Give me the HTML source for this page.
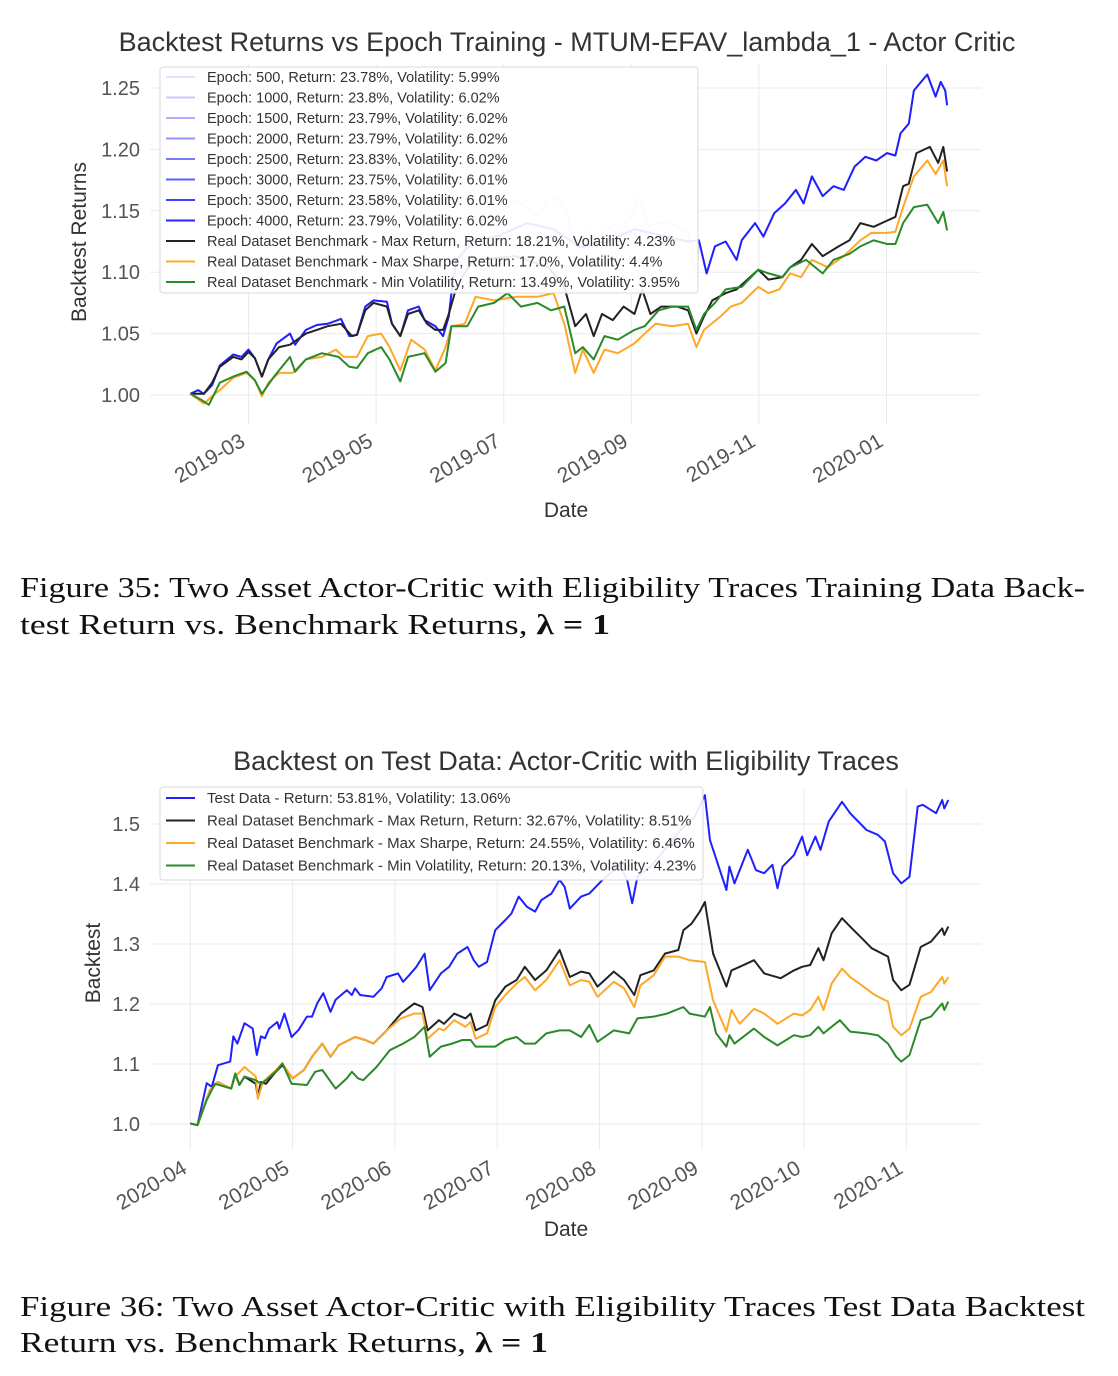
<!DOCTYPE html>
<html><head><meta charset="utf-8"><style>
html,body{margin:0;padding:0;background:#fff;}
svg{display:block;font-family:"Liberation Sans",sans-serif;}
</style></head><body>
<svg id="root" width="1118" height="1376" viewBox="0 0 1118 1376" xmlns="http://www.w3.org/2000/svg">
<g id="c1"></g>
<g id="c2"></g>
<g font-family="Liberation Serif, serif" font-size="29" fill="#111">
<text x="20" y="597" textLength="1065" lengthAdjust="spacingAndGlyphs">Figure 35: Two Asset Actor-Critic with Eligibility Traces Training Data Back-</text>
<text x="20" y="634" textLength="590" lengthAdjust="spacingAndGlyphs">test Return vs. Benchmark Returns, <tspan font-weight="bold">λ = 1</tspan></text>
</g>
<g font-family="Liberation Serif, serif" font-size="29" fill="#111">
<text x="20" y="1316" textLength="1065" lengthAdjust="spacingAndGlyphs">Figure 36: Two Asset Actor-Critic with Eligibility Traces Test Data Backtest</text>
<text x="20" y="1352" textLength="528" lengthAdjust="spacingAndGlyphs">Return vs. Benchmark Returns, <tspan font-weight="bold">λ = 1</tspan></text>
</g>
</svg>
<script>
// ---------- Chart 1 data (t = months since 2019-03) ----------
const c1Ticks = [1.00,1.05,1.10,1.15,1.20,1.25];
const c1TickLabels = ["1.00","1.05","1.10","1.15","1.20","1.25"];
const c1Months = [0,2,4,6,8,10];
const c1MonthLabels = ["2019-03","2019-05","2019-07","2019-09","2019-11","2020-01"];
const c1BlueT = [-0.91,-0.79,-0.70,-0.57,-0.45,-0.24,-0.11,0.00,0.10,0.21,0.31,0.44,0.65,0.73,0.90,1.07,1.24,1.45,1.58,1.70,1.83,1.96,2.17,2.25,2.38,2.50,2.67,2.76,2.93,3.05,3.14,3.18,3.26,3.52,3.94,4.36,4.78,5.20,5.62,6.05,6.47,6.89,7.06,7.18,7.31,7.48,7.65,7.73,7.94,8.07,8.24,8.41,8.58,8.70,8.83,9.00,9.17,9.33,9.50,9.67,9.84,10.01,10.14,10.22,10.35,10.43,10.64,10.77,10.85,10.92,10.95];
const c1BlueV = [1.001,1.004,1.001,1.008,1.024,1.033,1.031,1.037,1.030,1.015,1.029,1.042,1.050,1.041,1.053,1.057,1.058,1.062,1.048,1.049,1.072,1.077,1.076,1.058,1.048,1.069,1.072,1.061,1.056,1.048,1.064,1.083,1.110,1.125,1.130,1.140,1.135,1.120,1.125,1.135,1.130,1.125,1.126,1.099,1.121,1.125,1.110,1.126,1.140,1.129,1.148,1.156,1.167,1.156,1.178,1.162,1.170,1.167,1.186,1.194,1.191,1.197,1.195,1.213,1.221,1.248,1.261,1.243,1.255,1.248,1.236];
const c1Ep500MidT = [3.26,3.43,3.60,3.77,3.94,4.19,4.36,4.53,4.70,4.87,4.99,5.12,5.29,5.46,5.62,5.79,5.96,6.13,6.26,6.38,6.55,6.72,6.89,7.02];
const c1Ep500MidV = [1.096,1.129,1.142,1.140,1.148,1.159,1.153,1.145,1.159,1.159,1.148,1.121,1.134,1.126,1.137,1.132,1.142,1.161,1.137,1.140,1.140,1.137,1.132,1.096];
const c1BlackT = [-0.91,-0.70,-0.57,-0.45,-0.24,-0.11,0.00,0.10,0.21,0.31,0.48,0.65,0.90,1.07,1.24,1.45,1.62,1.70,1.83,1.96,2.17,2.25,2.38,2.50,2.67,2.80,2.93,3.05,3.14,3.26,3.52,4.19,4.70,4.95,5.12,5.29,5.41,5.54,5.71,5.88,6.05,6.17,6.30,6.47,6.72,6.89,7.02,7.14,7.27,7.48,7.65,7.82,7.99,8.15,8.37,8.49,8.66,8.83,9.00,9.25,9.42,9.59,9.80,10.01,10.14,10.26,10.35,10.47,10.68,10.81,10.89,10.95];
const c1BlackV = [1.001,1.001,1.010,1.023,1.031,1.029,1.035,1.030,1.015,1.029,1.039,1.041,1.050,1.053,1.056,1.058,1.048,1.049,1.069,1.075,1.072,1.058,1.048,1.066,1.069,1.058,1.053,1.053,1.066,1.088,1.110,1.113,1.104,1.088,1.056,1.066,1.048,1.066,1.061,1.072,1.066,1.086,1.066,1.072,1.072,1.069,1.050,1.064,1.077,1.083,1.086,1.094,1.102,1.094,1.096,1.104,1.110,1.123,1.113,1.121,1.126,1.140,1.137,1.142,1.145,1.170,1.172,1.197,1.202,1.189,1.202,1.182];
const c1OrangeT = [-0.91,-0.70,-0.57,-0.45,-0.24,-0.03,0.10,0.21,0.31,0.48,0.69,0.90,1.15,1.37,1.49,1.70,1.87,2.08,2.21,2.38,2.55,2.76,2.93,3.09,3.18,3.39,3.56,3.85,4.19,4.53,4.78,4.95,5.12,5.24,5.41,5.58,5.79,6.05,6.21,6.38,6.64,6.89,7.02,7.14,7.40,7.56,7.73,7.99,8.15,8.32,8.49,8.66,8.83,9.08,9.33,9.59,9.76,10.01,10.14,10.26,10.43,10.64,10.77,10.89,10.95];
const c1OrangeV = [1.001,0.993,0.999,1.004,1.014,1.018,1.012,0.999,1.010,1.018,1.018,1.029,1.031,1.037,1.031,1.031,1.048,1.050,1.039,1.020,1.045,1.037,1.020,1.039,1.056,1.058,1.080,1.077,1.080,1.080,1.083,1.058,1.018,1.037,1.018,1.037,1.034,1.042,1.050,1.058,1.056,1.058,1.039,1.053,1.064,1.072,1.075,1.088,1.083,1.086,1.099,1.096,1.110,1.104,1.113,1.126,1.132,1.132,1.133,1.153,1.178,1.191,1.180,1.191,1.170];
const c1GreenT = [-0.91,-0.74,-0.62,-0.45,-0.24,-0.03,0.10,0.21,0.40,0.65,0.73,0.90,1.15,1.41,1.58,1.70,1.87,2.08,2.21,2.38,2.50,2.76,2.93,3.09,3.18,3.43,3.60,3.85,4.06,4.27,4.53,4.74,4.95,5.12,5.24,5.41,5.58,5.79,6.05,6.21,6.43,6.64,6.89,7.02,7.14,7.31,7.48,7.73,7.99,8.15,8.37,8.49,8.74,9.00,9.17,9.42,9.59,9.80,10.01,10.14,10.26,10.43,10.64,10.81,10.89,10.95];
const c1GreenV = [1.001,0.996,0.992,1.010,1.015,1.019,1.012,1.001,1.015,1.031,1.019,1.029,1.034,1.031,1.023,1.022,1.034,1.039,1.029,1.011,1.031,1.034,1.019,1.026,1.056,1.056,1.072,1.075,1.083,1.072,1.075,1.069,1.072,1.034,1.039,1.029,1.048,1.045,1.053,1.056,1.069,1.072,1.072,1.053,1.066,1.075,1.086,1.088,1.102,1.099,1.096,1.104,1.110,1.099,1.110,1.115,1.121,1.126,1.123,1.123,1.140,1.153,1.155,1.140,1.149,1.134];
const c1Legend = ["Epoch: 500, Return: 23.78%, Volatility: 5.99%","Epoch: 1000, Return: 23.8%, Volatility: 6.02%","Epoch: 1500, Return: 23.79%, Volatility: 6.02%","Epoch: 2000, Return: 23.79%, Volatility: 6.02%","Epoch: 2500, Return: 23.83%, Volatility: 6.02%","Epoch: 3000, Return: 23.75%, Volatility: 6.01%","Epoch: 3500, Return: 23.58%, Volatility: 6.01%","Epoch: 4000, Return: 23.79%, Volatility: 6.02%","Real Dataset Benchmark - Max Return, Return: 18.21%, Volatility: 4.23%","Real Dataset Benchmark - Max Sharpe, Return: 17.0%, Volatility: 4.4%","Real Dataset Benchmark - Min Volatility, Return: 13.49%, Volatility: 3.95%"];

// ---------- Chart 2 data (t = months since 2020-04) ----------
const c2Ticks = [1.0,1.1,1.2,1.3,1.4,1.5];
const c2TickLabels = ["1.0","1.1","1.2","1.3","1.4","1.5"];
const c2Months = [0,1,2,3,4,5,6,7];
const c2MonthLabels = ["2020-04","2020-05","2020-06","2020-07","2020-08","2020-09","2020-10","2020-11"];
const c2BlueT = [0.00,0.07,0.16,0.21,0.27,0.39,0.42,0.46,0.53,0.61,0.65,0.69,0.73,0.77,0.85,0.87,0.92,0.99,1.06,1.14,1.19,1.24,1.30,1.37,1.42,1.53,1.58,1.61,1.66,1.79,1.87,1.92,2.03,2.08,2.14,2.21,2.29,2.34,2.45,2.53,2.61,2.71,2.77,2.82,2.90,2.98,3.08,3.14,3.21,3.29,3.37,3.43,3.53,3.61,3.66,3.71,3.82,3.90,4.03,4.14,4.19,4.27,4.32,4.37,4.50,4.61,4.79,4.93,5.03,5.08,5.24,5.27,5.32,5.45,5.53,5.61,5.69,5.74,5.79,5.90,5.98,6.03,6.11,6.16,6.24,6.37,6.45,6.61,6.72,6.79,6.87,6.95,7.03,7.11,7.16,7.29,7.35,7.37,7.41];
const c2BlueV = [1.001,0.998,1.068,1.062,1.098,1.104,1.146,1.134,1.168,1.159,1.115,1.146,1.143,1.159,1.170,1.159,1.184,1.145,1.157,1.179,1.179,1.201,1.218,1.187,1.207,1.223,1.215,1.226,1.215,1.212,1.226,1.245,1.251,1.237,1.248,1.262,1.284,1.223,1.251,1.262,1.284,1.295,1.273,1.262,1.270,1.323,1.340,1.351,1.379,1.362,1.354,1.373,1.384,1.407,1.395,1.359,1.379,1.384,1.407,1.423,1.434,1.407,1.368,1.412,1.429,1.451,1.490,1.512,1.548,1.473,1.390,1.429,1.401,1.457,1.423,1.418,1.432,1.393,1.429,1.448,1.479,1.448,1.479,1.457,1.504,1.537,1.518,1.490,1.482,1.471,1.418,1.401,1.412,1.529,1.532,1.518,1.540,1.526,1.540];
const c2BlackT = [0.00,0.07,0.19,0.27,0.40,0.44,0.48,0.53,0.64,0.66,0.69,0.74,0.82,0.90,1.00,1.11,1.19,1.29,1.37,1.45,1.61,1.71,1.79,1.92,2.06,2.19,2.27,2.32,2.43,2.48,2.58,2.69,2.74,2.79,2.90,2.98,3.08,3.19,3.27,3.37,3.48,3.61,3.71,3.82,3.90,3.98,4.14,4.24,4.34,4.40,4.53,4.64,4.77,4.82,4.90,4.98,5.03,5.11,5.24,5.29,5.37,5.51,5.61,5.77,5.90,5.98,6.06,6.14,6.19,6.27,6.37,6.45,6.58,6.66,6.82,6.87,6.95,7.03,7.14,7.24,7.35,7.37,7.41];
const c2BlackV = [1.001,0.998,1.056,1.070,1.059,1.084,1.065,1.079,1.067,1.045,1.070,1.067,1.084,1.098,1.076,1.090,1.112,1.134,1.112,1.131,1.145,1.140,1.134,1.156,1.184,1.201,1.195,1.156,1.173,1.167,1.184,1.176,1.184,1.156,1.165,1.206,1.229,1.240,1.262,1.240,1.256,1.290,1.245,1.254,1.251,1.229,1.254,1.240,1.215,1.248,1.256,1.284,1.290,1.323,1.334,1.354,1.370,1.284,1.229,1.256,1.262,1.273,1.251,1.243,1.256,1.262,1.265,1.293,1.273,1.318,1.343,1.329,1.307,1.293,1.279,1.240,1.223,1.232,1.295,1.304,1.326,1.315,1.329];
const c2OrangeT = [0.00,0.07,0.19,0.27,0.40,0.44,0.53,0.64,0.66,0.71,0.82,0.90,1.00,1.11,1.19,1.29,1.37,1.45,1.61,1.71,1.79,1.92,2.06,2.19,2.27,2.32,2.43,2.48,2.58,2.69,2.74,2.79,2.90,2.98,3.08,3.19,3.27,3.37,3.48,3.61,3.71,3.82,3.90,3.98,4.14,4.24,4.34,4.40,4.53,4.64,4.77,4.88,5.03,5.11,5.24,5.29,5.37,5.51,5.61,5.74,5.90,5.98,6.06,6.14,6.19,6.27,6.37,6.45,6.58,6.69,6.82,6.87,6.95,7.03,7.14,7.24,7.35,7.37,7.41];
const c2OrangeV = [1.001,0.998,1.056,1.070,1.059,1.079,1.095,1.079,1.042,1.070,1.087,1.101,1.076,1.090,1.112,1.134,1.112,1.131,1.145,1.140,1.134,1.156,1.176,1.184,1.184,1.142,1.159,1.156,1.173,1.162,1.170,1.142,1.151,1.195,1.215,1.234,1.245,1.223,1.240,1.273,1.231,1.240,1.237,1.212,1.237,1.226,1.195,1.231,1.248,1.279,1.279,1.273,1.270,1.206,1.154,1.190,1.167,1.192,1.184,1.167,1.184,1.181,1.190,1.212,1.190,1.234,1.259,1.245,1.229,1.215,1.204,1.162,1.148,1.159,1.212,1.220,1.245,1.234,1.245];
const c2GreenT = [0.00,0.07,0.16,0.24,0.40,0.44,0.48,0.53,0.64,0.69,0.74,0.85,0.90,0.99,1.14,1.22,1.29,1.42,1.53,1.58,1.64,1.69,1.82,1.95,2.08,2.19,2.29,2.34,2.45,2.56,2.66,2.74,2.79,2.98,3.08,3.19,3.27,3.37,3.48,3.61,3.71,3.82,3.90,3.98,4.14,4.29,4.37,4.53,4.66,4.82,4.88,5.03,5.08,5.14,5.24,5.27,5.32,5.51,5.61,5.74,5.90,5.98,6.06,6.14,6.19,6.35,6.45,6.61,6.72,6.82,6.90,6.95,7.03,7.14,7.24,7.35,7.37,7.41];
const c2GreenV = [1.001,0.998,1.040,1.067,1.059,1.084,1.065,1.079,1.073,1.067,1.073,1.090,1.101,1.067,1.065,1.087,1.090,1.059,1.076,1.087,1.076,1.073,1.095,1.123,1.134,1.145,1.162,1.112,1.129,1.134,1.140,1.140,1.129,1.129,1.140,1.145,1.134,1.134,1.151,1.156,1.156,1.145,1.165,1.137,1.156,1.151,1.176,1.179,1.184,1.195,1.184,1.179,1.195,1.151,1.129,1.148,1.134,1.159,1.145,1.131,1.148,1.145,1.148,1.162,1.151,1.173,1.154,1.151,1.148,1.134,1.112,1.104,1.115,1.173,1.179,1.201,1.190,1.204];
const c2Legend = ["Test Data - Return: 53.81%, Volatility: 13.06%","Real Dataset Benchmark - Max Return, Return: 32.67%, Volatility: 8.51%","Real Dataset Benchmark - Max Sharpe, Return: 24.55%, Volatility: 6.46%","Real Dataset Benchmark - Min Volatility, Return: 20.13%, Volatility: 4.23%"];

const NS = "http://www.w3.org/2000/svg";
function mk(tag, attrs, parent){ const e=document.createElementNS(NS,tag); for(const k in attrs) e.setAttribute(k,attrs[k]); parent.appendChild(e); return e; }

function drawChart(g, cfg){
  const xs = t => cfg.x0 + t*cfg.xStep;
  const ys = v => cfg.y0 - (v - cfg.vBase)*cfg.yScale;
  cfg.ticks.forEach((v,i)=>{
    const l = mk("line",{x1:cfg.left,x2:cfg.right,y1:ys(v),y2:ys(v),stroke:"#ebebeb","stroke-width":1},g);
    
    
    const t = mk("text",{x:140,y:ys(v)+7,"text-anchor":"end","font-size":20,fill:"#555"},g);
    t.textContent = cfg.tickLabels[i];
    
    
  });
  cfg.months.forEach((m,i)=>{
    const x = xs(m);
    const l = mk("line",{x1:x,x2:x,y1:cfg.top,y2:cfg.bottom,stroke:"#ebebeb","stroke-width":1},g);
    
    
    const t = mk("text",{x:0,y:0,"text-anchor":"end","font-size":21,fill:"#555",transform:`translate(${x+cfg.labDx},${cfg.bottom+cfg.labDy}) rotate(-30)`},g);
    t.textContent = cfg.monthLabels[i];
    
    
  });
  cfg.series.forEach(s=>{
    const d = s.t.map((t,i)=>(i?"L":"M")+xs(t).toFixed(1)+","+ys(s.v[i]).toFixed(1)).join(" ");
    const p = mk("path",{d:d,fill:"none",stroke:s.color,"stroke-width":2,"stroke-linejoin":"round"},g);
    
    
  });
  const lg = mk("g",{},g);
  
  
  mk("rect",{x:cfg.lx,y:cfg.ly,width:cfg.lw,height:cfg.lh,rx:3,fill:"rgba(255,255,255,0.9)",stroke:"#d8d8d8"},lg);
  cfg.legend.forEach((txt,i)=>{
    const y = cfg.ly + cfg.lfirst + i*cfg.lstep;
    const e = mk("g",{},lg);
    
    
    mk("line",{x1:cfg.lx+6,x2:cfg.lx+35,y1:y,y2:y,stroke:cfg.legendColors[i],"stroke-width":2},e);
    const t = mk("text",{x:cfg.lx+47,y:y+5,"font-size":cfg.lfont,fill:"#333"},e);
    t.textContent = txt;
  });
  const ti = mk("text",{x:cfg.titleX,y:cfg.titleY,"text-anchor":"middle","font-size":27,fill:"#333"},g);
  ti.textContent = cfg.title;
  
  
  const xt = mk("text",{x:566,y:cfg.xTitleY,"text-anchor":"middle","font-size":21,fill:"#333"},g);
  xt.textContent = "Date";
  
  
  const yt = mk("text",{x:0,y:0,"text-anchor":"middle","font-size":21,fill:"#333",transform:`translate(${cfg.yTitleX},${cfg.yTitleY}) rotate(-90)`},g);
  yt.textContent = cfg.yTitle;
  
  
}

const lavT = [], lavV = [];
c1BlueT.forEach((t,i)=>{ if(t<=3.18){lavT.push(t);lavV.push(c1BlueV[i]);} });
c1Ep500MidT.forEach((t,i)=>{ lavT.push(t); lavV.push(c1Ep500MidV[i]); });
c1BlueT.forEach((t,i)=>{ if(t>=7.06){lavT.push(t);lavV.push(c1BlueV[i]);} });

const epochColors = ["#e3e3ff","#c9c9ff","#aeaeff","#9494ff","#7878ff","#5c5cff","#3f3fff","#2323ff"];
drawChart(document.getElementById("c1"),{
  x0:248.5,xStep:63.8,y0:395,vBase:1,yScale:1228,left:150,right:981,top:63,bottom:425,
  labDx:-2,labDy:20,
  ticks:c1Ticks,tickLabels:c1TickLabels,months:c1Months,monthLabels:c1MonthLabels,
  series:[
    {name:"epoch-500-line",t:lavT,v:lavV,color:"#d4d4ff"},
    {name:"epoch-1000-4000-line",t:c1BlueT,v:c1BlueV,color:"#2020ff"},
    {name:"max-return-benchmark-line",t:c1BlackT,v:c1BlackV,color:"#222"},
    {name:"max-sharpe-benchmark-line",t:c1OrangeT,v:c1OrangeV,color:"#ffa726"},
    {name:"min-volatility-benchmark-line",t:c1GreenT,v:c1GreenV,color:"#2a8a2a"}
  ],
  legend:c1Legend,legendColors:epochColors.concat(["#222","#ffa726","#2a8a2a"]),
  lx:160,ly:67,lw:538,lh:226,lfirst:10,lstep:20.5,lfont:14.5,
  title:"Backtest Returns vs Epoch Training - MTUM-EFAV_lambda_1 - Actor Critic",titleX:567,titleY:51,
  xTitleY:517,yTitle:"Backtest Returns",yTitleX:86,yTitleY:242
});
drawChart(document.getElementById("c2"),{
  x0:190.3,xStep:102.3,y0:1124,vBase:1,yScale:600,left:150,right:981,top:788,bottom:1150,
  labDx:-2,labDy:22,
  ticks:c2Ticks,tickLabels:c2TickLabels,months:c2Months,monthLabels:c2MonthLabels,
  series:[
    {name:"test-data-line",t:c2BlueT,v:c2BlueV,color:"#2020ff"},
    {name:"max-return-benchmark-line",t:c2BlackT,v:c2BlackV,color:"#222"},
    {name:"max-sharpe-benchmark-line",t:c2OrangeT,v:c2OrangeV,color:"#ffa726"},
    {name:"min-volatility-benchmark-line",t:c2GreenT,v:c2GreenV,color:"#2a8a2a"}
  ],
  legend:c2Legend,legendColors:["#2020ff","#222","#ffa726","#2a8a2a"],
  lx:160,ly:787,lw:543,lh:93,lfirst:11,lstep:22.5,lfont:15,
  title:"Backtest on Test Data: Actor-Critic with Eligibility Traces",titleX:566,titleY:770,
  xTitleY:1236,yTitle:"Backtest",yTitleX:100,yTitleY:963
});
</script>
</body></html>
